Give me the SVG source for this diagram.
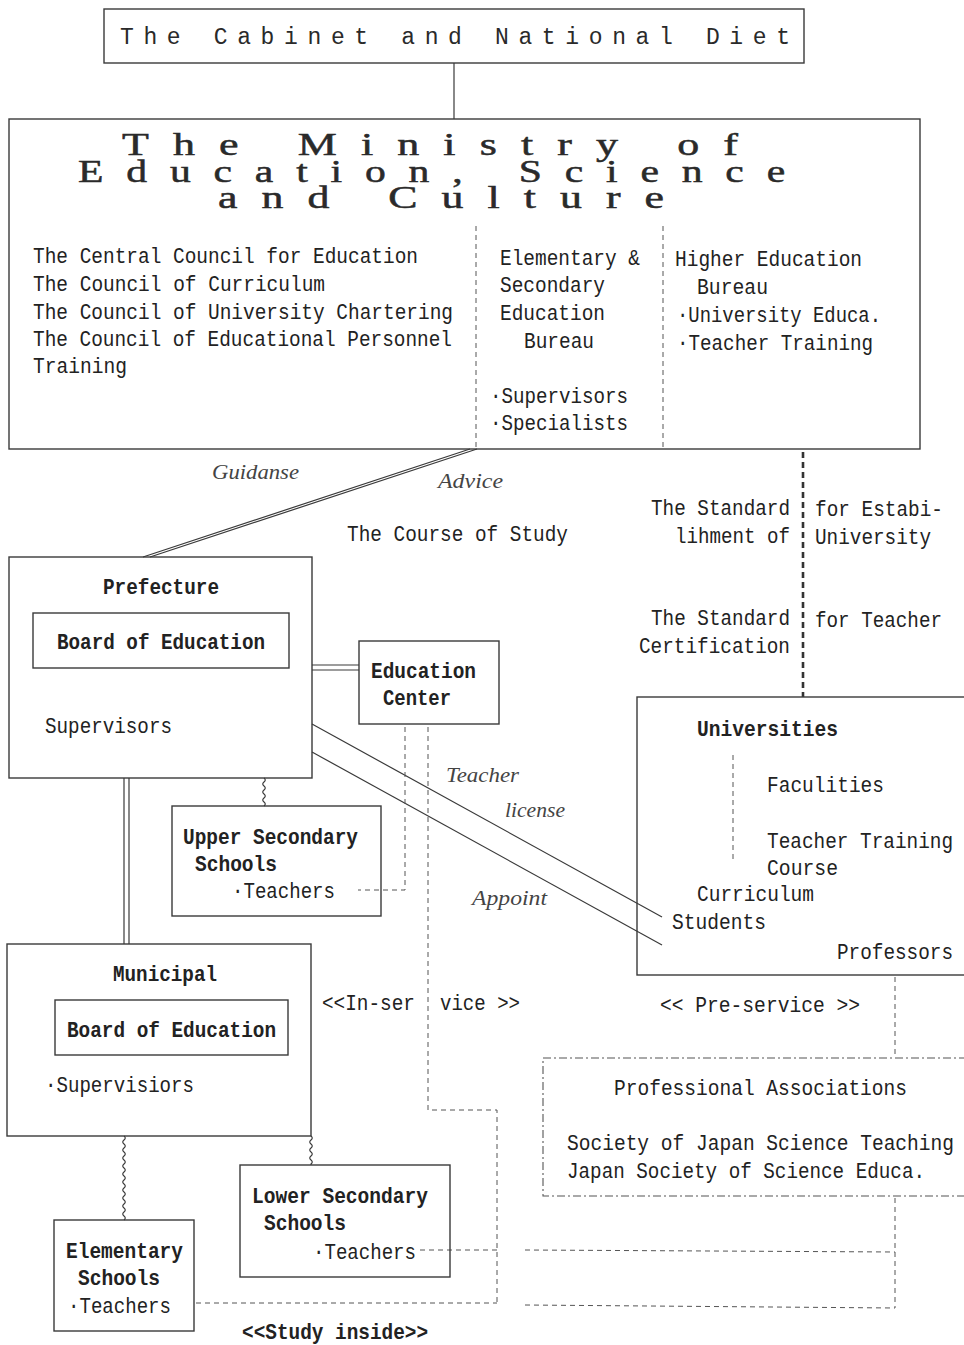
<svg xmlns="http://www.w3.org/2000/svg" width="964" height="1345" viewBox="0 0 964 1345">
<style>
  .box { fill: none; stroke: #3a3a3a; stroke-width: 1.4; }
  .ln { fill: none; stroke: #3a3a3a; stroke-width: 1.2; }
  .dash { fill: none; stroke: #555; stroke-width: 1; stroke-dasharray: 5 4; }
  .dashdot { fill: none; stroke: #555; stroke-width: 1.1; stroke-dasharray: 8 3 2 3; }
  .thick { fill: none; stroke: #333; stroke-width: 2.6; stroke-dasharray: 6 4; }
  text { font-family: "Liberation Mono", "DejaVu Sans Mono", monospace; font-size: 22px; fill: #222; }
  .b { font-weight: bold; }
  .it { font-family: "Liberation Serif", "DejaVu Serif", serif; font-style: italic; fill: #444; font-size: 22px; }
  .title { font-family: "Liberation Serif", "DejaVu Serif", serif; font-size: 31px; fill: #2a2a2a; stroke: #2a2a2a; stroke-width: 0.5; letter-spacing: 17px; }
  .cab { font-size: 23px; fill: #2a2a2a; }
</style>

<!-- connectors -->
<g id="connectors">
  <line class="ln" x1="454" y1="63" x2="454" y2="119"/>
  <!-- ministry to prefecture (double) -->
  <line class="ln" x1="470" y1="449" x2="143" y2="557"/>
  <line class="ln" x1="477" y1="449" x2="150" y2="557"/>
  <!-- standards (heavy dotted) -->
  <line class="thick" x1="803" y1="452" x2="803" y2="697"/>
  <!-- prefecture to education center (double) -->
  <line class="ln" x1="312" y1="665" x2="359" y2="665"/>
  <line class="ln" x1="312" y1="670" x2="359" y2="670"/>
  <!-- licence / appoint -->
  <line class="ln" x1="312" y1="724" x2="662" y2="917"/>
  <line class="ln" x1="312" y1="752" x2="662" y2="945"/>
  <!-- prefecture to municipal (double) -->
  <line class="ln" x1="124" y1="778" x2="124" y2="944"/>
  <line class="ln" x1="129" y1="778" x2="129" y2="944"/>
  <!-- wavy links to schools -->
  <path class="ln" d="M264 778 q2.5 2 0 4 q-2.5 2 0 4 q2.5 2 0 4 q-2.5 2 0 4 q2.5 2 0 4 q-2.5 2 0 4 q2.5 2 0 4"/>
  <path class="ln" d="M124 1136 q2.5 2 0 4 q-2.5 2 0 4 q2.5 2 0 4 q-2.5 2 0 4 q2.5 2 0 4 q-2.5 2 0 4 q2.5 2 0 4 q-2.5 2 0 4 q2.5 2 0 4 q-2.5 2 0 4 q2.5 2 0 4 q-2.5 2 0 4 q2.5 2 0 4 q-2.5 2 0 4 q2.5 2 0 4 q-2.5 2 0 4 q2.5 2 0 4 q-2.5 2 0 4 q2.5 2 0 4 q-2.5 2 0 4 q2.5 2 0 4"/>
  <path class="ln" d="M311 1136 q2.5 2 0 4 q-2.5 2 0 4 q2.5 2 0 4 q-2.5 2 0 4 q2.5 2 0 4 q-2.5 2 0 4 q2.5 2 0 4 l0 1"/>
  <!-- in-service links -->
  <polyline class="dash" points="405,727 405,890 358,890"/>
  <polyline class="dash" points="428,727 428,1110 497,1110 497,1305"/>
  <line class="dash" x1="420" y1="1250" x2="497" y2="1250"/>
  <line class="dash" x1="196" y1="1303" x2="497" y2="1303"/>
  <line class="dash" x1="525" y1="1250" x2="895" y2="1252"/>
  <line class="dash" x1="525" y1="1305" x2="895" y2="1308"/>
  <line class="dash" x1="895" y1="1198" x2="895" y2="1308"/>
  <!-- pre-service link -->
  <line class="dash" x1="895" y1="977" x2="895" y2="1058"/>
</g>

<g id="cabinet">
  <rect class="box" x="104" y="9" width="700" height="54"/>
  <text class="cab" x="120" y="44" textLength="670" lengthAdjust="spacing">The Cabinet and National Diet</text>
</g>

<g id="ministry">
  <rect class="box" x="9" y="119" width="911" height="330"/>
  <text class="title" x="122" y="155" textLength="640" lengthAdjust="spacingAndGlyphs">The Ministry of</text>
  <text class="title" x="78" y="182" textLength="730" lengthAdjust="spacingAndGlyphs">Education, Science</text>
  <text class="title" x="218" y="208" textLength="470" lengthAdjust="spacingAndGlyphs">and Culture</text>
  <line class="dash" x1="476" y1="226" x2="476" y2="449"/>
  <line class="dash" x1="663" y1="226" x2="663" y2="449"/>
  <text x="33" y="263" textLength="385" lengthAdjust="spacingAndGlyphs">The Central Council for Education</text>
  <text x="33" y="291" textLength="292" lengthAdjust="spacingAndGlyphs">The Council of Curriculum</text>
  <text x="33" y="319" textLength="420" lengthAdjust="spacingAndGlyphs">The Council of University Chartering</text>
  <text x="33" y="346" textLength="419" lengthAdjust="spacingAndGlyphs">The Council of Educational Personnel</text>
  <text x="33" y="373" textLength="94" lengthAdjust="spacingAndGlyphs">Training</text>
  <text x="500" y="265" textLength="140" lengthAdjust="spacingAndGlyphs">Elementary &amp;</text>
  <text x="500" y="292" textLength="105" lengthAdjust="spacingAndGlyphs">Secondary</text>
  <text x="500" y="320" textLength="105" lengthAdjust="spacingAndGlyphs">Education</text>
  <text x="524" y="348" textLength="70" lengthAdjust="spacingAndGlyphs">Bureau</text>
  <text x="490" y="403" textLength="138" lengthAdjust="spacingAndGlyphs">·Supervisors</text>
  <text x="490" y="430" textLength="138" lengthAdjust="spacingAndGlyphs">·Specialists</text>
  <text x="675" y="266" textLength="187" lengthAdjust="spacingAndGlyphs">Higher Education</text>
  <text x="697" y="294" textLength="71" lengthAdjust="spacingAndGlyphs">Bureau</text>
  <text x="677" y="322" textLength="204" lengthAdjust="spacingAndGlyphs">·University Educa.</text>
  <text x="677" y="350" textLength="196" lengthAdjust="spacingAndGlyphs">·Teacher Training</text>
</g>

<g id="labels">
  <text class="it" x="212" y="479" textLength="87" lengthAdjust="spacingAndGlyphs">Guidanse</text>
  <text class="it" x="438" y="488" textLength="65" lengthAdjust="spacingAndGlyphs">Advice</text>
  <text x="347" y="541" textLength="221" lengthAdjust="spacingAndGlyphs">The Course of Study</text>
  <text x="651" y="515" textLength="139" lengthAdjust="spacingAndGlyphs">The Standard</text>
  <text x="675" y="543" textLength="115" lengthAdjust="spacingAndGlyphs">lihment of</text>
  <text x="815" y="516" textLength="128" lengthAdjust="spacingAndGlyphs">for Estabi-</text>
  <text x="815" y="544" textLength="116" lengthAdjust="spacingAndGlyphs">University</text>
  <text x="651" y="625" textLength="139" lengthAdjust="spacingAndGlyphs">The Standard</text>
  <text x="639" y="653" textLength="151" lengthAdjust="spacingAndGlyphs">Certification</text>
  <text x="815" y="627" textLength="127" lengthAdjust="spacingAndGlyphs">for Teacher</text>
  <text class="it" x="446" y="782" textLength="73" lengthAdjust="spacingAndGlyphs">Teacher</text>
  <text class="it" x="505" y="817" textLength="60" lengthAdjust="spacingAndGlyphs">license</text>
  <text class="it" x="472" y="905" textLength="75" lengthAdjust="spacingAndGlyphs">Appoint</text>
  <text x="322" y="1010" textLength="93" lengthAdjust="spacingAndGlyphs">&lt;&lt;In-ser</text>
  <text x="440" y="1010" textLength="80" lengthAdjust="spacingAndGlyphs">vice &gt;&gt;</text>
  <text x="660" y="1012" textLength="200" lengthAdjust="spacingAndGlyphs">&lt;&lt; Pre-service &gt;&gt;</text>
  <text class="b" x="242" y="1339" textLength="186" lengthAdjust="spacingAndGlyphs">&lt;&lt;Study inside&gt;&gt;</text>
</g>

<g id="prefecture">
  <rect class="box" x="9" y="557" width="303" height="221"/>
  <text class="b" x="103" y="594" textLength="116" lengthAdjust="spacingAndGlyphs">Prefecture</text>
  <rect class="box" x="33" y="613" width="256" height="55"/>
  <text class="b" x="57" y="649" textLength="208" lengthAdjust="spacingAndGlyphs">Board of Education</text>
  <text x="45" y="733" textLength="127" lengthAdjust="spacingAndGlyphs">Supervisors</text>
</g>

<g id="education-center">
  <rect class="box" x="359" y="641" width="140" height="83"/>
  <text class="b" x="371" y="678" textLength="105" lengthAdjust="spacingAndGlyphs">Education</text>
  <text class="b" x="383" y="705" textLength="68" lengthAdjust="spacingAndGlyphs">Center</text>
</g>

<g id="universities">
  <rect class="box" x="637" y="697" width="340" height="278"/>
  <text class="b" x="697" y="736" textLength="141" lengthAdjust="spacingAndGlyphs">Universities</text>
  <line class="dash" x1="733" y1="755" x2="733" y2="860"/>
  <text x="767" y="792" textLength="117" lengthAdjust="spacingAndGlyphs">Faculities</text>
  <text x="767" y="848" textLength="186" lengthAdjust="spacingAndGlyphs">Teacher Training</text>
  <text x="767" y="875" textLength="71" lengthAdjust="spacingAndGlyphs">Course</text>
  <text x="697" y="901" textLength="117" lengthAdjust="spacingAndGlyphs">Curriculum</text>
  <text x="672" y="929" textLength="94" lengthAdjust="spacingAndGlyphs">Students</text>
  <text x="837" y="959" textLength="116" lengthAdjust="spacingAndGlyphs">Professors</text>
</g>

<g id="upper-secondary">
  <rect class="box" x="172" y="806" width="209" height="110"/>
  <text class="b" x="183" y="844" textLength="175" lengthAdjust="spacingAndGlyphs">Upper Secondary</text>
  <text class="b" x="195" y="871" textLength="82" lengthAdjust="spacingAndGlyphs">Schools</text>
  <text x="232" y="898" textLength="103" lengthAdjust="spacingAndGlyphs">·Teachers</text>
</g>

<g id="municipal">
  <rect class="box" x="7" y="944" width="304" height="192"/>
  <text class="b" x="113" y="981" textLength="104" lengthAdjust="spacingAndGlyphs">Municipal</text>
  <rect class="box" x="55" y="1000" width="233" height="55"/>
  <text class="b" x="67" y="1037" textLength="209" lengthAdjust="spacingAndGlyphs">Board of Education</text>
  <text x="45" y="1092" textLength="149" lengthAdjust="spacingAndGlyphs">·Supervisiors</text>
</g>

<g id="professional-associations">
  <rect class="dashdot" x="543" y="1058" width="430" height="138"/>
  <text x="614" y="1095" textLength="293" lengthAdjust="spacingAndGlyphs">Professional Associations</text>
  <text x="567" y="1150" textLength="387" lengthAdjust="spacingAndGlyphs">Society of Japan Science Teaching</text>
  <text x="567" y="1178" textLength="358" lengthAdjust="spacingAndGlyphs">Japan Society of Science Educa.</text>
</g>

<g id="lower-secondary">
  <rect class="box" x="240" y="1165" width="210" height="112"/>
  <text class="b" x="252" y="1203" textLength="176" lengthAdjust="spacingAndGlyphs">Lower Secondary</text>
  <text class="b" x="264" y="1230" textLength="82" lengthAdjust="spacingAndGlyphs">Schools</text>
  <text x="313" y="1259" textLength="103" lengthAdjust="spacingAndGlyphs">·Teachers</text>
</g>

<g id="elementary">
  <rect class="box" x="54" y="1220" width="140" height="111"/>
  <text class="b" x="66" y="1258" textLength="117" lengthAdjust="spacingAndGlyphs">Elementary</text>
  <text class="b" x="78" y="1285" textLength="82" lengthAdjust="spacingAndGlyphs">Schools</text>
  <text x="68" y="1313" textLength="103" lengthAdjust="spacingAndGlyphs">·Teachers</text>
</g>
</svg>
